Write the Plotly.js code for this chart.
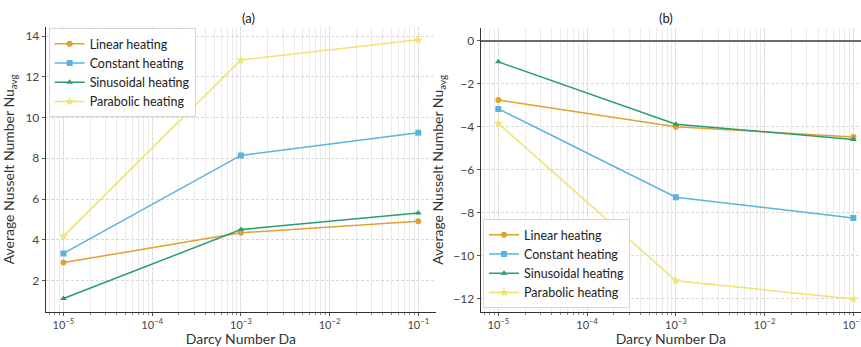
<!DOCTYPE html>
<html>
<head>
<meta charset="utf-8">
<script src="https://cdn.plot.ly/plotly-3.0.1.min.js"></script>
<style>html,body{margin:0;padding:0;background:#fff;}#chart{width:861px;height:347px;}</style>
</head>
<body>
<div id="chart"></div>
<script>
// Data
const darcy = [1e-5, 1e-3, 1e-1];
const seriesNames = ["Linear heating", "Constant heating", "Sinusoidal heating", "Parabolic heating"];
const linearA = [2.88, 4.34, 4.91];
const constantA = [3.33, 8.14, 9.25];
const sinusoidalA = [1.12, 4.50, 5.32];
const parabolicA = [4.18, 12.82, 13.82];
const linearB = [-2.75, -3.99, -4.47];
const constantB = [-3.16, -7.27, -8.24];
const sinusoidalB = [-0.97, -3.87, -4.58];
const parabolicB = [-3.84, -11.16, -12.01];
const xTickVals = [1e-5, 1e-4, 1e-3, 1e-2, 1e-1];
const xTickText = ["10<sup>\u22125</sup>", "10<sup>\u22124</sup>", "10<sup>\u22123</sup>", "10<sup>\u22122</sup>", "10<sup>\u22121</sup>"];
const yTickValsA = [2, 4, 6, 8, 10, 12, 14];
const yTickValsB = [0, -2, -4, -6, -8, -10, -12];
const yTickTextB = ["0", "\u22122", "\u22124", "\u22126", "\u22128", "\u221210", "\u221212"];

const colors = ["#E0A12E", "#5BB3DC", "#2A9D70", "#F0E36A"];
const symbols = ["circle", "square", "triangle-up", "star"];
const sizes = [6, 6, 6, 7];
const dataA = [linearA, constantA, sinusoidalA, parabolicA];
const dataB = [linearB, constantB, sinusoidalB, parabolicB];

const traces = [];
dataA.forEach((ys, i) => traces.push({
  x: darcy, y: ys, name: seriesNames[i], type: "scatter", mode: "lines+markers",
  xaxis: "x", yaxis: "y", legend: "legend",
  line: {color: colors[i], width: 1.5},
  marker: {color: colors[i], symbol: symbols[i], size: sizes[i]}
}));
dataB.forEach((ys, i) => traces.push({
  x: darcy, y: ys, name: seriesNames[i], type: "scatter", mode: "lines+markers",
  xaxis: "x2", yaxis: "y2", legend: "legend2",
  line: {color: colors[i], width: 1.5},
  marker: {color: colors[i], symbol: symbols[i], size: sizes[i]}
}));

const fontFam = "Lato, Open Sans, sans-serif";
function xaxis(domain, range, anchor) {
  return {
    type: "log", domain: domain, range: range, anchor: anchor,
    tickvals: xTickVals, ticktext: xTickText,
    ticks: "outside", ticklen: 3, tickcolor: "#555",
    ticklabeloverflow: "allow",
    showline: true, linecolor: "#333", linewidth: 1, mirror: false,
    showgrid: true, gridcolor: "#d9d9d9", griddash: "3px,2px", gridwidth: 1,
    zeroline: false,
    minor: {dtick: "D1", showgrid: true, gridcolor: "#ebebeb", griddash: "solid", gridwidth: 1, ticks: "outside", ticklen: 2, tickcolor: "#888"},
    tickfont: {family: fontFam, size: 11, color: "#444"},
    title: {text: "Darcy Number Da", font: {family: fontFam, size: 14, color: "#333"}}
  };
}
function yaxis(domain, range, anchor, tv, tt) {
  const ax = {
    domain: domain, range: range, anchor: anchor,
    tickvals: tv,
    ticks: "outside", ticklen: 3, tickcolor: "#555",
    showline: true, linecolor: "#333", linewidth: 1, mirror: false,
    showgrid: true, gridcolor: "#d9d9d9", griddash: "3px,2px", gridwidth: 1,
    tickfont: {family: fontFam, size: 12, color: "#444"},
    title: {text: "Average Nusselt Number Nu<sub>avg</sub>", font: {family: fontFam, size: 14, color: "#333"}}
  };
  if (tt) ax.ticktext = tt;
  return ax;
}

const yA = yaxis([0.1017, 0.922], [0.47, 14.44], "x", yTickValsA);
yA.zeroline = false;
const yB = yaxis([0.1017, 0.919], [-12.6, 0.6], "x2", yTickValsB, yTickTextB);
yB.zeroline = true; yB.zerolinecolor = "#6a6a6a"; yB.zerolinewidth = 1.5;

const legendStyle = {
  bgcolor: "rgba(255,255,255,0.92)", bordercolor: "#d6d6d6", borderwidth: 1,
  font: {family: fontFam, size: 12.5, color: "#222"}, tracegroupgap: 0, itemwidth: 30
};

const layout = {
  width: 861, height: 347,
  margin: {l: 0, r: 0, t: 0, b: 0},
  paper_bgcolor: "#fff", plot_bgcolor: "#fff",
  showlegend: true,
  xaxis: xaxis([0.0531, 0.5064], [-5.2, -0.8], "y"),
  yaxis: yA,
  xaxis2: xaxis([0.5582, 1.0], [-5.2, -0.914], "y2"),
  yaxis2: yB,
  legend: Object.assign({x: 0.0565, y: 0.919, xanchor: "left", yanchor: "top"}, legendStyle),
  legend2: Object.assign({x: 0.561, y: 0.112, xanchor: "left", yanchor: "bottom"}, legendStyle),
  annotations: [
    {text: "(a)", x: 0.279, y: 0.948, xref: "paper", yref: "paper", yanchor: "middle", showarrow: false, font: {family: fontFam, size: 13, color: "#222"}},
    {text: "(b)", x: 0.784, y: 0.948, xref: "paper", yref: "paper", yanchor: "middle", showarrow: false, font: {family: fontFam, size: 13, color: "#222"}}
  ]
};

Plotly.newPlot("chart", traces, layout, {displayModeBar: false, staticPlot: true});
</script>
</body>
</html>
